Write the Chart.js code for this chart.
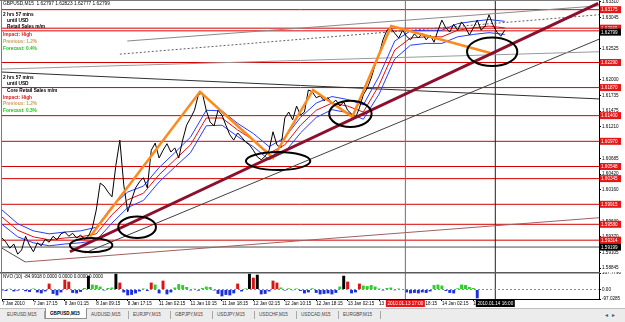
<!DOCTYPE html>
<html>
<head>
<meta charset="utf-8">
<title>GBPUSD,M15</title>
<script src="https://cdn.jsdelivr.net/npm/chart.js@4.4.1/dist/chart.umd.min.js"></script>
<style>
  html, body { margin: 0; padding: 0; background: #fff; overflow: hidden; }
  #wrap { position: relative; width: 625px; height: 322px; background: #fff; }
  #mainBox { position: absolute; left: 0; top: 0; width: 625px; height: 272px; }
  #subBox { position: absolute; left: 0; top: 272px; width: 625px; height: 36px; }
  #tabs { position: absolute; left: 0; top: 308px; width: 625px; height: 14px; background: #ececec;
          border-top: 1px solid #c0c0c0; box-sizing: border-box;
          font-family: 'Liberation Sans', Arial, sans-serif; font-size: 4.6px; }
  .tab { position: absolute; top: 2px; width: 42px; height: 8px; line-height: 8px; padding-left: 4px;
         box-sizing: border-box; color: #444; border-right: 1px solid #a8a8a8; white-space: nowrap; }
  .tab.on { top: -1px; height: 11px; line-height: 12px; background: #fff; border: 1px solid #909090;
            border-top: none; color: #000; font-weight: bold; }
  #arrows { position: absolute; right: 6px; top: 2px; color: #555; font-size: 6px; letter-spacing: 4px; }
</style>
</head>
<body>
<div id="wrap">
  <div id="mainBox"><canvas id="main" width="625" height="272"></canvas></div>
  <div id="subBox"><canvas id="sub" width="625" height="36"></canvas></div>
  <div id="tabs"><span id="arrows">&#9666;&#9656;</span></div>
</div>
<script>
// ---- data (x = hours of trading since 7 Jan 2010 09:15) ----
const closePrice = [
  1.5935, 1.5928, 1.5918, 1.5925, 1.5908, 1.5915, 1.5938, 1.5923, 1.5912, 1.5927,
  1.5922, 1.5933, 1.5928, 1.5938, 1.5932, 1.5942, 1.5945, 1.5938, 1.5943, 1.5935,
  1.5940, 1.5933, 1.5938, 1.5952, 1.5982, 1.6027, 1.6022, 1.6012, 1.6004, 1.6057,
  1.6099, 1.6024, 1.5979, 1.5999, 1.6019, 1.6029, 1.6036, 1.6019, 1.6082, 1.6094,
  1.6069, 1.6082, 1.6093, 1.6079, 1.6086, 1.6069, 1.6099, 1.6124, 1.6136, 1.6149,
  1.6175, 1.6178, 1.6149, 1.6129, 1.6123, 1.6149, 1.6141, 1.6124, 1.6108, 1.6099,
  1.6111, 1.6104, 1.6096, 1.6091, 1.6082, 1.6071, 1.6066, 1.6072, 1.6082, 1.6113,
  1.6091, 1.6086, 1.6136, 1.6146, 1.6133, 1.6156, 1.6141, 1.6146, 1.6183, 1.6180,
  1.6170, 1.6173, 1.6165, 1.6170, 1.6160, 1.6166, 1.6156, 1.6163, 1.6149, 1.6143,
  1.6136, 1.6153, 1.6175, 1.6186, 1.6203, 1.6225, 1.6242, 1.6267, 1.6283, 1.6287,
  1.6278, 1.6270, 1.6283, 1.6273, 1.6267, 1.6277, 1.6270, 1.6278, 1.6267, 1.6275,
  1.6263, 1.6283, 1.6300, 1.6287, 1.6280, 1.6293, 1.6283, 1.6297, 1.6288, 1.6275,
  1.6287, 1.6300, 1.6283, 1.6290, 1.6309, 1.6292, 1.6280, 1.6273, 1.6283
];

const maHours = [0, 4, 8, 12, 16, 20, 24, 28, 32, 36, 40, 44, 48, 52, 56, 60, 64,
                 68, 72, 76, 80, 84, 88, 92, 96, 100, 104, 108, 112, 116, 120, 124, 128];
const maUpper = [1.5982, 1.5959, 1.5947, 1.5942, 1.5945, 1.5947, 1.5953, 1.5988, 1.6012, 1.6022, 1.6053,
                 1.6078, 1.6104, 1.6149, 1.6148, 1.6127, 1.6110, 1.6088, 1.6103, 1.6137, 1.6161, 1.6172,
                 1.6167, 1.6158, 1.6206, 1.6265, 1.6282, 1.6283, 1.6283, 1.6294, 1.6298, 1.6301, 1.6298];
const maMid   = [1.5970, 1.5948, 1.5937, 1.5932, 1.5935, 1.5937, 1.5942, 1.5974, 1.5999, 1.6010, 1.6041,
                 1.6066, 1.6091, 1.6136, 1.6136, 1.6116, 1.6099, 1.6077, 1.6091, 1.6124, 1.6149, 1.6161,
                 1.6156, 1.6146, 1.6191, 1.6250, 1.6270, 1.6272, 1.6272, 1.6283, 1.6287, 1.6290, 1.6287];
const maLower = [1.5958, 1.5937, 1.5927, 1.5922, 1.5925, 1.5927, 1.5931, 1.5960, 1.5986, 1.5998, 1.6029,
                 1.6054, 1.6078, 1.6123, 1.6124, 1.6105, 1.6088, 1.6066, 1.6079, 1.6111, 1.6137, 1.6150,
                 1.6145, 1.6134, 1.6176, 1.6235, 1.6258, 1.6261, 1.6261, 1.6272, 1.6276, 1.6279, 1.6276];

const zigHours = [22.4, 50.4, 69.0, 79.2, 89.2, 99.1, 124.3];
const zigPrice = [1.5937, 1.6180, 1.6069, 1.6183, 1.6138, 1.6290, 1.6245];

const trendHours = [17.3, 151.8];
const trendPrice = [1.5912, 1.6328];

// thin trend lines: [hour0, price0, hour1, price1]
const thinLines = [
  [31.9, 1.6265, 152, 1.6324],
  [30, 1.6243, 152, 1.6309],
  [0, 1.6213, 152, 1.6168],
  [0, 1.6218, 152, 1.6247],
  [21.1, 1.5910, 152, 1.6268],
  [5.9, 1.5895, 152, 1.5969],
  [0, 1.5918, 5.9, 1.5895]
];

const levels = [1.63175, 1.62865, 1.62820, 1.62290, 1.61870, 1.61400, 1.60970,
                1.60548, 1.60345, 1.59915, 1.59580, 1.59314];
const greyLevels = [1.59199];
const blackLabels = [1.62799, 1.59199];

const priceTicks = [1.63310, 1.63045, 1.62785, 1.62525, 1.62260, 1.62000, 1.61735, 1.61475, 1.61210,
                    1.60945, 1.60685, 1.60420, 1.60160, 1.59895, 1.59630, 1.59370, 1.59105, 1.58845];

const ellipseHours = [22.7, 34.4, 70.3, 88.7, 124.8];
const ellipsePrice = [1.5923, 1.5953, 1.6064, 1.6143, 1.6247];
const ellipseRadH  = [5.4, 4.8, 8.2, 5.4, 6.4];
const ellipseRadP  = [0.0012, 0.0018, 0.0015, 0.0022, 0.0024];

const vLineHours = [102.7, 125.6];
const vLineText  = ['2010.01.13 17:00', '2010.01.14 16:00'];

const nvo = [
  -10, -15, 8, -20, -12, 5, -18, -25, 10, -30,
  -40, -20, 60, -45, -60, -30, 100, 80, -35, -40,
  -25, 15, 140, 50, 45, 30, -10, 15, 20, 160,
  70, -30, -60, -55, -40, -20, 10, -15, 70, 50,
  -40, 90, -50, -30, 20, 55, 45, 25, -10, 8,
  -12, 15, 30, 25, -10, -45, -70, -55, -60, -40,
  60, -20, 10, 160, 120, 150, -50, -45, -20, 90,
  70, 20, -10, 12, -8, 10, -15, -40, -30, 12,
  -35, -50, -45, -40, -50, -35, 30, 140, 80, -40,
  -30, 60, 40, 35, 45, 30, 10, -10, 15, 20,
  -8, 10, -5, -30, -40, -35, -40, -30, -35, -20,
  45, 50, 40, -15, -35, -40, 12, 50, 45, 25,
  15, -90
];
const nvoTicks = [167.779, 0, -97.0285];

const tickHours = [0, 8, 16, 24, 32, 40, 48, 56, 64, 72, 80, 88, 96, 104, 112, 120];
const timeLabels = ['7 Jan 2010', '7 Jan 17:15', '8 Jan 01:15', '8 Jan 09:15', '8 Jan 17:15',
  '11 Jan 02:15', '11 Jan 10:15', '11 Jan 18:15', '12 Jan 02:15', '12 Jan 10:15', '12 Jan 18:15',
  '13 Jan 02:15', '13 Jan 10:15', '13 Jan 18:15', '14 Jan 02:15', '14 Jan 10:15'];

const tabNames = ['EURUSD,M15', 'GBPUSD,M15', 'AUDUSD,M15', 'EURJPY,M15', 'GBPJPY,M15',
                  'USDJPY,M15', 'USDCHF,M15', 'USDCAD,M15', 'EURGBP,M15'];

// ---- chart setup ----
const X_MIN = 0, X_MAX = 152;
const P_MIN = 1.58781, P_MAX = 1.63337;
const FONT = "'Liberation Sans', Arial, sans-serif";

function seg(x0, y0, x1, y1) { return [{x: x0, y: y0}, {x: x1, y: y1}]; }
function pts(xs, ys) { return xs.map((x, i) => ({x: x, y: ys[i]})); }

const mainSets = [];
levels.forEach(l => mainSets.push({data: seg(X_MIN, l, X_MAX, l), borderColor: '#d40000', borderWidth: 1, order: 9}));
greyLevels.forEach(l => mainSets.push({data: seg(X_MIN, l, X_MAX, l), borderColor: '#505050', borderWidth: 1, order: 9}));
const thinColors = ['#8a8a8a', '#606060', '#303030', '#9a9a9a', '#404040', '#a06060', '#505050'];
thinLines.forEach((t, i) => mainSets.push({
  data: seg(t[0], t[1], t[2], t[3]), borderColor: thinColors[i], borderWidth: 1,
  borderDash: i === 1 ? [2, 2] : [], order: 8
}));
vLineHours.forEach((h, i) => mainSets.push({
  data: seg(h, P_MIN, h, P_MAX), borderColor: i === 0 ? '#707070' : '#202020', borderWidth: 1, order: 8
}));
mainSets.push({data: pts(maHours, maUpper), borderColor: '#2a3cff', borderWidth: 1, order: 5});
mainSets.push({data: pts(maHours, maLower), borderColor: '#2a3cff', borderWidth: 1, order: 5});
mainSets.push({data: pts(maHours, maMid), borderColor: '#e01010', borderWidth: 1, order: 5});
mainSets.push({data: closePrice.map((p, i) => ({x: i, y: p})), borderColor: '#000', borderWidth: 1, order: 4});
mainSets.push({data: pts(zigHours, zigPrice), borderColor: '#ff8a1c', borderWidth: 2.5, order: 2});
mainSets.push({data: pts(trendHours, trendPrice), borderColor: '#8c0f2c', borderWidth: 3, order: 1});

function txt(ctx, s, x, y, color, bold, size) {
  ctx.font = (bold ? 'bold ' : '') + size + 'px ' + FONT;
  ctx.fillStyle = color;
  ctx.textAlign = 'left';
  ctx.textBaseline = 'middle';
  ctx.fillText(s, x, y);
}

function axisLabel(ctx, y, s, bg) {
  ctx.fillStyle = bg;
  ctx.fillRect(600, y - 3.5, 21, 7);
  txt(ctx, s, 601, y + 0.3, '#fff', false, 4.6);
}

const mainOverlay = {
  id: 'mainOverlay',
  afterDatasetsDraw(chart) {
    const {ctx, scales: {x, y}} = chart;
    ctx.save();
    ctx.strokeStyle = '#000';
    ctx.lineWidth = 2;
    ellipseHours.forEach((h, i) => {
      const cx = x.getPixelForValue(h), cy = y.getPixelForValue(ellipsePrice[i]);
      const rx = Math.abs(x.getPixelForValue(h + ellipseRadH[i]) - cx);
      const ry = Math.abs(y.getPixelForValue(ellipsePrice[i] + ellipseRadP[i]) - cy);
      ctx.beginPath();
      ctx.ellipse(cx, cy, rx, ry, 0, 0, Math.PI * 2);
      ctx.stroke();
    });
    ctx.restore();
  },
  afterDraw(chart) {
    const {ctx, scales: {y}} = chart;
    ctx.save();
    // frame
    ctx.strokeStyle = '#7a7a7a';
    ctx.lineWidth = 1;
    ctx.beginPath();
    ctx.moveTo(1.5, 0); ctx.lineTo(1.5, 272);
    ctx.moveTo(0, 0.5); ctx.lineTo(600, 0.5);
    ctx.stroke();
    // news boxes
    txt(ctx, 'GBPUSD,M15  1.62797 1.62823 1.62777 1.62799', 3, 4, '#000', false, 4.8);
    txt(ctx, '2 hrs 57 mins', 3, 15, '#000', true, 4.8);
    txt(ctx, 'until USD', 7, 21, '#000', true, 4.8);
    txt(ctx, 'Retail Sales m/m', 7, 27, '#000', true, 4.8);
    txt(ctx, 'Impact: High', 3, 35, '#d41c1c', true, 4.8);
    txt(ctx, 'Previous: 1.2%', 3, 42, '#c8a064', true, 4.8);
    txt(ctx, 'Forecast: 0.4%', 3, 49, '#28c028', true, 4.8);
    txt(ctx, '2 hrs 57 mins', 3, 78, '#000', true, 4.8);
    txt(ctx, 'until USD', 7, 84, '#000', true, 4.8);
    txt(ctx, 'Core Retail Sales m/m', 7, 91, '#000', true, 4.8);
    txt(ctx, 'Impact: High', 3, 98, '#d41c1c', true, 4.8);
    txt(ctx, 'Previous: 1.2%', 3, 104, '#c8a064', true, 4.8);
    txt(ctx, 'Forecast: 0.3%', 3, 111, '#28c028', true, 4.8);
    // price labels on the axis
    levels.forEach(l => axisLabel(ctx, y.getPixelForValue(l), l.toFixed(5), '#e41818'));
    blackLabels.forEach(l => axisLabel(ctx, y.getPixelForValue(l), l.toFixed(5), '#000'));
    ctx.restore();
  }
};

new Chart(document.getElementById('main'), {
  type: 'line',
  data: {datasets: mainSets},
  plugins: [mainOverlay],
  options: {
    responsive: false,
    animation: false,
    devicePixelRatio: 1,
    layout: {padding: {left: 2, right: 0, top: 0, bottom: 0}},
    elements: {point: {radius: 0}, line: {tension: 0}},
    plugins: {legend: {display: false}, tooltip: {enabled: false}},
    scales: {
      x: {type: 'linear', min: X_MIN, max: X_MAX, display: false},
      y: {
        type: 'linear', position: 'right', min: P_MIN, max: P_MAX,
        afterBuildTicks(s) { s.ticks = priceTicks.map(v => ({value: v})); },
        afterFit(s) { s.width = 26; s.paddingTop = 0; s.paddingBottom = 0; },
        ticks: {autoSkip: false, padding: 1, color: '#000',
                font: {family: FONT, size: 4.6},
                callback: v => Number(v).toFixed(5)},
        grid: {drawOnChartArea: false, tickLength: 2, color: '#000'},
        border: {display: true, color: '#000'}
      }
    }
  }
});

// ---- NVO sub window ----
function barColor(v) {
  if (v < 0) return '#1c30d8';
  if (v >= 130) return '#000';
  if (v >= 58) return '#d81414';
  return '#30cc30';
}

const subOverlay = {
  id: 'subOverlay',
  afterDraw(chart) {
    const {ctx, scales: {x}} = chart;
    ctx.save();
    ctx.fillStyle = '#5a5a5a';
    ctx.fillRect(0, 0, 600, 1.5);
    ctx.strokeStyle = '#7a7a7a';
    ctx.lineWidth = 1;
    ctx.beginPath(); ctx.moveTo(1.5, 0); ctx.lineTo(1.5, 27); ctx.stroke();
    txt(ctx, 'NVO (10) -84.9918 0.0000 0.0000 0.0000 0.0000', 3, 5, '#000', false, 4.6);
    vLineHours.forEach((h, i) => {
      const cx = x.getPixelForValue(h);
      ctx.fillStyle = i === 0 ? '#e41818' : '#000';
      ctx.fillRect(cx - 19.5, 28, 39, 7);
      ctx.font = '4.6px ' + FONT;
      ctx.fillStyle = '#fff';
      ctx.textAlign = 'center';
      ctx.textBaseline = 'middle';
      ctx.fillText(vLineText[i], cx, 31.8);
    });
    ctx.restore();
  }
};

new Chart(document.getElementById('sub'), {
  type: 'bar',
  data: {
    datasets: [
      {type: 'line', data: seg(X_MIN, 0, X_MAX, 0), borderColor: '#8a8a8a', borderWidth: 1,
       borderDash: [2, 2], pointRadius: 0, order: 0},
      {type: 'line', data: seg(vLineHours[0], -97.0285, vLineHours[0], 167.779), borderColor: '#707070',
       borderWidth: 1, pointRadius: 0, order: 0},
      {type: 'line', data: seg(vLineHours[1], -97.0285, vLineHours[1], 167.779), borderColor: '#202020',
       borderWidth: 1, pointRadius: 0, order: 0},
      {type: 'bar', data: nvo.map((v, i) => ({x: i, y: v})),
       backgroundColor: c => barColor(c.raw ? c.raw.y : 0),
       barPercentage: 0.75, categoryPercentage: 1, order: 1}
    ]
  },
  plugins: [subOverlay],
  options: {
    responsive: false,
    animation: false,
    devicePixelRatio: 1,
    layout: {padding: {left: 2, right: 0, top: 1, bottom: 0}},
    plugins: {legend: {display: false}, tooltip: {enabled: false}},
    scales: {
      x: {
        type: 'linear', min: X_MIN, max: X_MAX, offset: false,
        afterBuildTicks(s) { s.ticks = tickHours.map(v => ({value: v})); },
        afterFit(s) { s.height = 9; s.paddingLeft = 0; s.paddingRight = 0; },
        ticks: {autoSkip: false, align: 'start', maxRotation: 0, padding: 0, color: '#000',
                font: {family: FONT, size: 4.6},
                callback: v => timeLabels[tickHours.indexOf(v)]},
        grid: {drawOnChartArea: false, offset: false, tickLength: 2, color: '#000'},
        border: {display: true, color: '#000'}
      },
      y: {
        type: 'linear', position: 'right', min: -97.0285, max: 167.779,
        afterBuildTicks(s) { s.ticks = nvoTicks.map(v => ({value: v})); },
        afterFit(s) { s.width = 26; s.paddingTop = 0; s.paddingBottom = 0; },
        ticks: {autoSkip: false, padding: 1, color: '#000',
                font: {family: FONT, size: 4.6},
                callback: v => v === 0 ? '0.00' : Number(v).toFixed(4)},
        grid: {drawOnChartArea: false, tickLength: 2, color: '#000'},
        border: {display: true, color: '#000'}
      }
    }
  }
});

// ---- symbol tabs ----
const tabBar = document.getElementById('tabs');
tabNames.forEach((t, i) => {
  const d = document.createElement('div');
  d.className = 'tab' + (i === 1 ? ' on' : '');
  d.style.left = (3 + i * 42) + 'px';
  d.textContent = t;
  tabBar.appendChild(d);
});
</script>
</body>
</html>
